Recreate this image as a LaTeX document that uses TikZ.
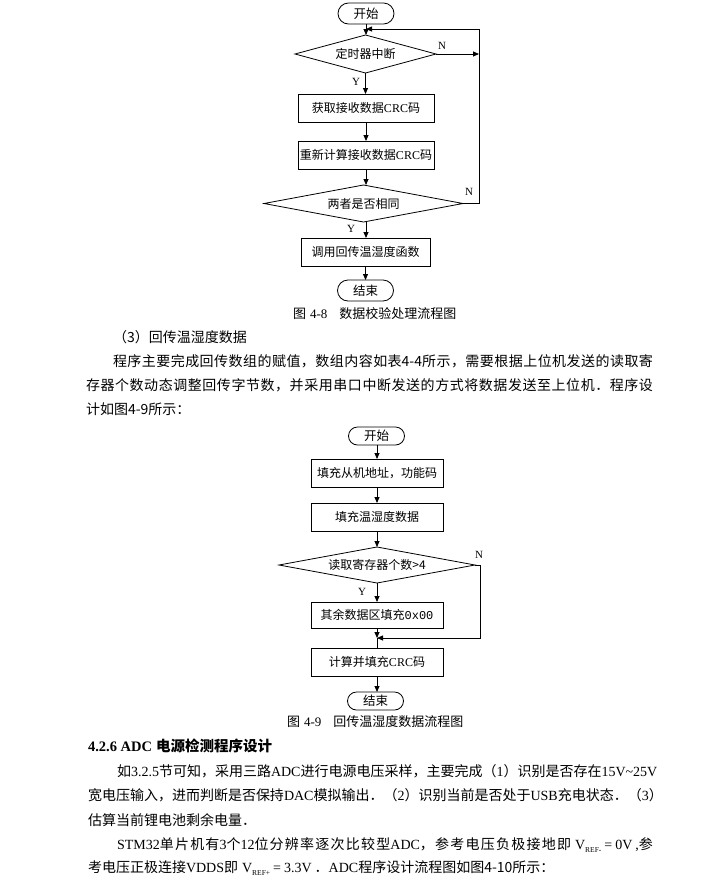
\documentclass[tikz,border=0pt]{standalone}
\usepackage{fontspec}
\setmainfont{Noto Sans CJK SC}
\newfontfamily\lat{Liberation Serif}
\newfontfamily\mono{Liberation Mono}
\usetikzlibrary{shapes.geometric,arrows.meta}
\newXeTeXintercharclass\cjkcls
\count255="4E00
\loop \XeTeXcharclass\count255=\cjkcls \advance\count255 by 1 \ifnum\count255<"A000 \repeat
\count255="3000
\loop \XeTeXcharclass\count255=\cjkcls \advance\count255 by 1 \ifnum\count255<"3040 \repeat
\count255="FF00
\loop \XeTeXcharclass\count255=\cjkcls \advance\count255 by 1 \ifnum\count255<"FFF0 \repeat
\XeTeXinterchartoks\cjkcls\cjkcls={\hskip0pt plus 3pt\relax}
\XeTeXinterchartokenstate=1
\newcommand\tm[1]{{\lat #1}}
\newcommand\subtx[1]{\raisebox{-0.4ex}{\fontsize{7.5}{7.5}\selectfont #1}}
\begin{document}
\begin{tikzpicture}[x=1pt,y=-1pt,
  every node/.style={inner sep=0pt, outer sep=0pt},
  proc/.style={draw, line width=0.8pt, minimum height=28pt, font=\fontsize{12}{12}\selectfont},
  term/.style={draw, line width=0.8pt, minimum width=56pt, font=\fontsize{12.5}{12.5}\selectfont},
  dec/.style={draw, diamond, line width=0.8pt, font=\fontsize{12}{12}\selectfont},
  arr/.style={-{Triangle[length=6pt,width=5pt]}, line width=0.8pt},
  ln/.style={line width=0.8pt},
  lbl/.style={font=\lat\fontsize{11}{11}\selectfont},
  body/.style={anchor=west, font=\fontsize{14}{14}\selectfont},
  capt/.style={anchor=west, font=\fontsize{13}{13}\selectfont},
]
\fill[white] (0,0) rectangle (726,876);
\useasboundingbox (0,0) rectangle (726,876);

% ---------- chart 1 ----------
\node[term, minimum height=21pt, rounded corners=10.5pt] (s1) at (366,13.5) {开始};
\node[dec, minimum width=141pt, minimum height=38pt, aspect=3.7] (d1) at (365.5,54) {定时器中断};
\node[proc, minimum width=136pt] (b1) at (366,108) {获取接收数据\tm{CRC}码};
\node[proc, minimum width=136pt] (b2) at (366,155) {重新计算接收数据\tm{CRC}码};
\node[dec, minimum width=199pt, minimum height=37pt, aspect=5.4] (d2) at (363.5,203.5) {两者是否相同};
\node[proc, minimum width=129pt] (b3) at (365.5,252) {调用回传温湿度函数};
\node[term, minimum height=21pt, rounded corners=10.5pt] (e1) at (365.5,290.5) {结束};
\coordinate (m1) at (366,29);
\coordinate (r1) at (479,29);

\draw[arr] (s1.south) -- (s1.south |- d1.north);
\draw[arr] (r1) -- (m1);
\draw[arr] (d1.east) -- (d1.east -| r1);
\draw[ln] (d2.east) -| (r1);
\draw[arr] (d1.south) -- (d1.south |- b1.north);
\draw[arr] (b1.south) -- (b2.north);
\draw[arr] (b2.south) -- (b2.south |- d2.north);
\draw[arr] (b2.south |- d2.south) -- (b2.south |- b3.north);
\draw[arr] (b3.south) -- (b3.south |- e1.north);
\node[lbl] (n1) at (442,46) {N};
\node[lbl] (y1) at (356,82) {Y};
\node[lbl] (n2) at (469,192) {N};
\node[lbl] (y2) at (351,229) {Y};
\node[capt] (c1) at (293,314) {图\hspace{4pt}\tm{4-8}\hspace{12pt}数据校验处理流程图};

% ---------- text ----------
\node[body] (t1) at (113,337) {（3）回传温湿度数据};
\node[body] (t2) at (113,361) {\makebox[540pt][s]{程序主要完成回传数组的赋值，数组内容如表4-4所示，需要根据上位机发送的读取寄}};
\node[body] (t3) at (86,385) {\makebox[567pt][s]{存器个数动态调整回传字节数，并采用串口中断发送的方式将数据发送至上位机．程序设}};
\node[body] (t4) at (86,409) {计如图4-9所示：};

% ---------- chart 2 ----------
\node[term, minimum height=18pt, rounded corners=9pt] (s2) at (376.5,436) {开始};
\node[proc, minimum width=132pt] (p1) at (377,473) {填充从机地址，功能码};
\node[proc, minimum width=132pt] (p2) at (377,517) {填充温湿度数据};
\node[dec, minimum width=196pt, minimum height=36pt, aspect=5.4] (d3) at (377,565) {读取寄存器个数>4};
\node[proc, minimum width=132pt, minimum height=26pt] (p3) at (377,615) {其余数据区填充{\mono 0x00}};
\node[proc, minimum width=132pt] (p4) at (377,662) {计算并填充\tm{CRC}码};
\node[term, minimum height=18pt, rounded corners=9pt] (e2) at (375.5,701) {结束};
\coordinate (m2) at (377,638);
\coordinate (c3) at (480,638);

\draw[arr] (s2.south) -- (s2.south -| p1.north) -- (p1.north);
\draw[arr] (p1.south) -- (p2.north);
\draw[arr] (p2.south) -- (d3.north);
\draw[arr] (d3.south) -- (p3.north);
\draw[arr] (d3.east) -| (c3) -- (m2);
\draw[arr] (p3.south) -- (m2);
\draw[ln] (m2) -- (p4.north);
\draw[arr] (p4.south) -- (p4.south |- e2.north);
\node[lbl] (n3) at (479,555) {N};
\node[lbl] (y3) at (362,592) {Y};
\node[capt] (c2) at (287,722) {图\hspace{4pt}\tm{4-9}\hspace{12pt}回传温湿度数据流程图};

% ---------- section ----------
\node[body, font=\bfseries\fontsize{14.5}{14.5}\selectfont] (h) at (88,746) {\tm{4.2.6 ADC}\hspace{4pt}电源检测程序设计};
\node[body] (a1) at (117,771) {\makebox[536pt][s]{如\tm{3.2.5}节可知，采用三路\tm{ADC}进行电源电压采样，主要完成（\tm{1}）识别是否存在\tm{15V\textasciitilde 25V}}};
\node[body] (a2) at (88,795) {\makebox[565pt][s]{宽电压输入，进而判断是否保持\tm{DAC}模拟输出．（\tm{2}）识别当前是否处于\tm{USB}充电状态．（\tm{3}）}};
\node[body] (a3) at (88,820) {估算当前锂电池剩余电量．};
\node[body] (a4) at (117,845) {\makebox[536pt][s]{\tm{STM32}单片机有\tm{3}个\tm{12}位分辨率逐次比较型\tm{ADC}，参考电压负极接地即\hspace{4pt}\tm{V\subtx{REF-}\hspace{3pt}=\hspace{3pt}0V\hspace{3pt},}参}};
\node[body] (a5) at (88,868) {考电压正极连接\tm{VDDS}即\hspace{4pt}\tm{V\subtx{REF+}\hspace{3pt}=\hspace{3pt}3.3V}\hspace{3pt}．\tm{ADC}程序设计流程图如图4-10所示：};
\end{tikzpicture}
\end{document}
